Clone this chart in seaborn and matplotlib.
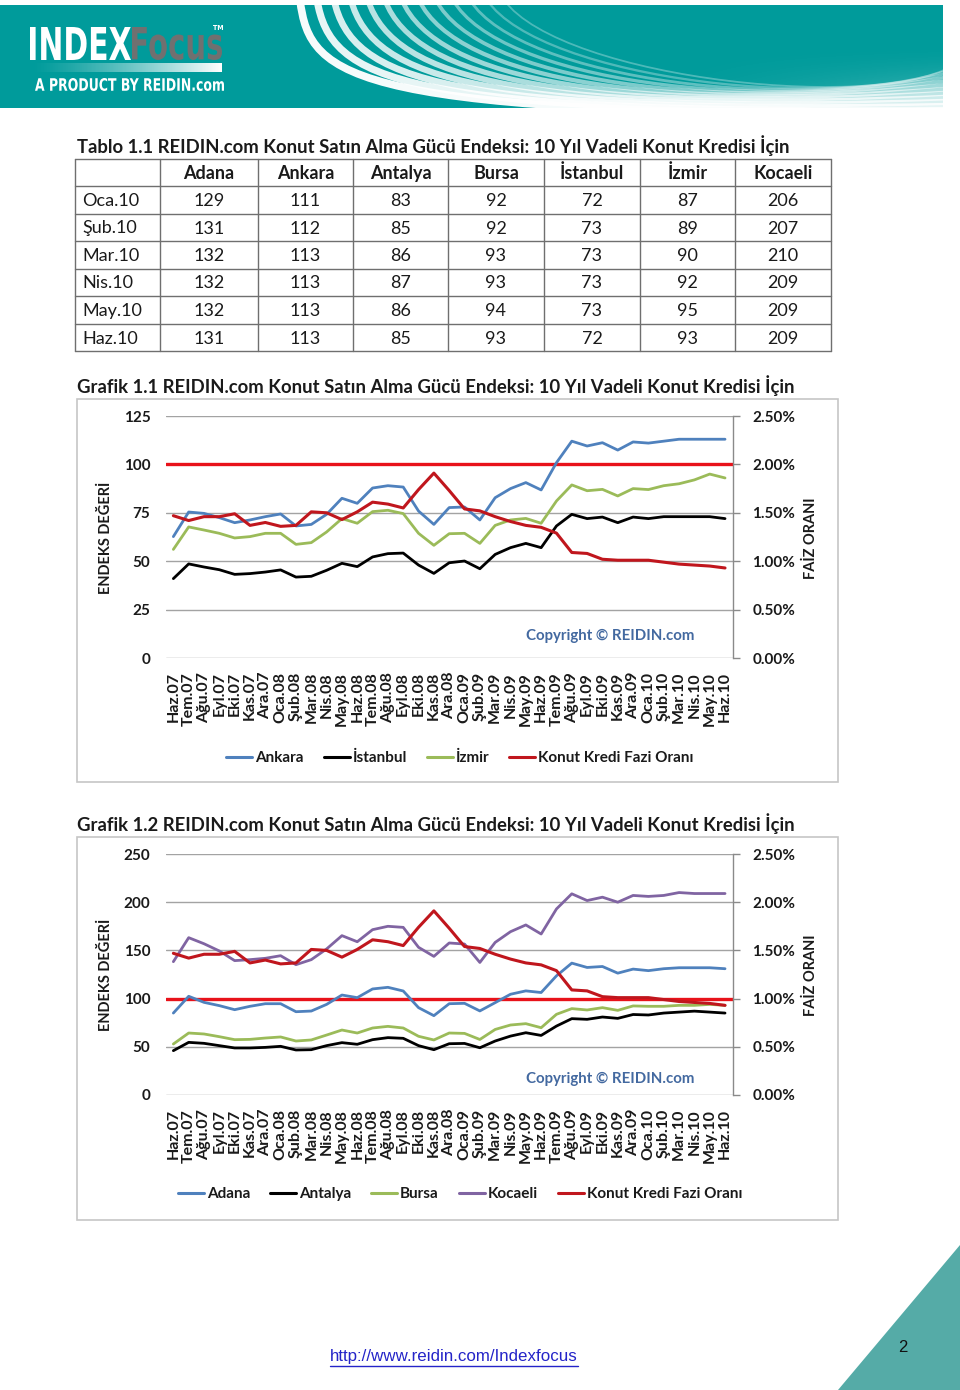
import numpy as np
import pandas as pd
import matplotlib
matplotlib.use("Agg")
import matplotlib.pyplot as plt
import seaborn as sns
from matplotlib.patches import Rectangle, Polygon, PathPatch
from matplotlib.path import Path
from matplotlib.textpath import TextPath
from matplotlib.font_manager import FontProperties
from matplotlib.transforms import Affine2D
from matplotlib.lines import Line2D

# ---------------- data ----------------
months = ["Haz.07", "Tem.07", "Ağu.07", "Eyl.07", "Eki.07", "Kas.07", "Ara.07",
          "Oca.08", "Şub.08", "Mar.08", "Nis.08", "May.08", "Haz.08", "Tem.08",
          "Ağu.08", "Eyl.08", "Eki.08", "Kas.08", "Ara.08", "Oca.09", "Şub.09",
          "Mar.09", "Nis.09", "May.09", "Haz.09", "Tem.09", "Ağu.09", "Eyl.09",
          "Eki.09", "Kas.09", "Ara.09", "Oca.10", "Şub.10", "Mar.10", "Nis.10",
          "May.10", "Haz.10"]

ankara = [62.7, 75.4, 74.7, 72.5, 69.9, 71.3, 73.0, 74.4, 68.2, 69.0, 74.2, 82.5,
          79.9, 87.8, 89.0, 88.3, 75.9, 69.0, 77.7, 78.0, 71.3, 82.8, 87.5, 90.6,
          86.8, 100.9, 112.0, 109.5, 111.2, 107.4, 111.6, 111, 112, 113, 113, 113, 113]
istanbul = [41.0, 48.6, 47.0, 45.6, 43.2, 43.6, 44.4, 45.5, 41.8, 42.2, 45.3, 48.9,
            47.2, 52.2, 53.9, 54.2, 48.0, 43.7, 49.2, 50.1, 46.1, 53.5, 57.0, 59.2,
            57.0, 68.2, 74.2, 72.0, 72.8, 69.9, 72.8, 72, 73, 73, 73, 73, 72]
izmir = [56.1, 67.7, 66.1, 64.4, 62.0, 62.7, 64.4, 64.4, 58.7, 59.6, 65.1, 72.0,
         69.6, 75.6, 76.3, 74.6, 64.4, 58.2, 64.2, 64.4, 59.2, 68.5, 71.3, 72.1,
         69.6, 81.1, 89.4, 86.4, 87.1, 83.7, 87.5, 87, 89, 90, 92, 95, 93]
adana = [85.0, 102.4, 96.1, 92.7, 88.5, 92.0, 94.7, 94.7, 86.4, 87.1, 94.0, 103.7,
         101.0, 110.0, 111.7, 107.9, 90.6, 82.3, 94.7, 95.1, 87.2, 95.8, 104.5, 108.0,
         106.3, 123.6, 136.8, 132.3, 133.3, 126.4, 130.6, 129, 131, 132, 132, 132, 131]
antalya = [46.0, 54.6, 53.6, 51.2, 48.8, 48.8, 49.4, 50.5, 46.7, 47.0, 51.2, 54.3,
           52.6, 57.4, 59.5, 58.8, 51.2, 47.0, 53.2, 53.5, 49.0, 56.0, 61.1, 64.6,
           61.8, 71.5, 79.2, 78.5, 80.9, 79.5, 83.5, 83, 85, 86, 87, 86, 85]
bursa = [52.9, 64.3, 63.3, 60.5, 57.4, 57.7, 59.1, 60.2, 56.0, 57.1, 62.2, 67.4,
         64.3, 69.5, 71.2, 69.5, 60.9, 57.1, 64.3, 63.9, 57.6, 68.0, 72.6, 74.0,
         69.8, 83.7, 89.6, 88.2, 90.6, 87.8, 92.4, 92, 92, 93, 93, 94, 93]
kocaeli = [138.3, 163.2, 156.9, 149.4, 139.4, 140.4, 141.8, 144.5, 135.2, 140.4, 151.5, 165.3,
           159.0, 171.5, 175.0, 173.9, 153.2, 143.8, 157.7, 156.6, 137.5, 158.3, 169.4, 176.4,
           167.0, 193.0, 208.7, 201.7, 205.2, 200.0, 207.0, 206, 207, 210, 209, 209, 209]
# Konut kredi faiz oranı (%)
rate = [1.47, 1.42, 1.46, 1.46, 1.49, 1.37, 1.40, 1.36, 1.37, 1.51, 1.50, 1.43,
        1.51, 1.61, 1.59, 1.55, 1.74, 1.91, 1.73, 1.54, 1.52, 1.46, 1.41, 1.37,
        1.35, 1.29, 1.09, 1.08, 1.02, 1.01, 1.01, 1.01, 0.99, 0.97, 0.96, 0.95, 0.93]

table_cities = ["Adana", "Ankara", "Antalya", "Bursa", "İstanbul", "İzmir", "Kocaeli"]
table_series = [adana, ankara, antalya, bursa, istanbul, izmir, kocaeli]
rate_label = "Konut Kredi Fazi Oranı"

# ---------------- style ----------------
sns.set_theme(style="white")
plt.rcParams["font.family"] = ["Lato", "DejaVu Sans"]

BLUE = "#4f81bd"
BLACK = "#000000"
GREEN = "#9bbb59"
PURPLE = "#8064a2"
RATE_RED = "#c0161d"
BASE_RED = "#e8121a"
TEAL = "#009b9b"
GRID = "#a3a3a3"
TXT = "#1a1a1a"

W, H = 960, 1390
fig = plt.figure(figsize=(W / 100, H / 100), dpi=100)
page = fig.add_axes([0, 0, 1, 1])
page.set_xlim(0, W)
page.set_ylim(H, 0)
page.axis("off")
renderer = fig.canvas.get_renderer()


def fit_width(t, target):
    bb = t.get_window_extent(renderer)
    t.set_fontsize(t.get_fontsize() * target / bb.width)


def fit_text(s, x0, x1, ytop, ybot, color, family="DejaVu Sans", weight="bold"):
    tp = TextPath((0, 0), s, size=1, prop=FontProperties(family=family, weight=weight))
    ext = tp.get_extents()
    sx = (x1 - x0) / ext.width
    sy = (ybot - ytop) / ext.height
    tr = Affine2D().scale(sx, -sy).translate(x0 - ext.x0 * sx, ybot + ext.y0 * sy)
    patch = PathPatch(tr.transform_path(tp), facecolor=color, edgecolor="none", zorder=5)
    page.add_patch(patch)


# ---------------- header banner ----------------
banner = Rectangle((0, 5), 943, 103, facecolor=TEAL, edgecolor="none", zorder=1)
page.add_patch(banner)
# soft glow at lower right
glow = np.zeros((64, 256, 4))
glow[..., :3] = 1.0
gx = np.linspace(0, 1, 256)[None, :]
gy = np.linspace(0, 1, 64)[:, None]
glow[..., 3] = 0.55 * np.clip(gx - 0.2, 0, 1) ** 1.5 * gy ** 2
gim = page.imshow(glow, extent=(560, 943, 108, 40), aspect="auto", zorder=1.5, interpolation="bilinear")
gim.set_clip_path(banner)
for k in range(13):
    x0 = 300 + 17 * k
    lw = max(5.5 - 0.35 * k, 0.8)
    verts = [(x0, 0), (x0 + 10 + 4 * k, 80), (350 + 45 * k, 115), (960, 115 - 4.5 * k)]
    path = Path(verts, [Path.MOVETO, Path.CURVE4, Path.CURVE4, Path.CURVE4])
    pp = PathPatch(path, fill=False, edgecolor="white", lw=lw, alpha=max(0.97 - 0.06 * k, 0.3), zorder=2)
    page.add_patch(pp)
    pp.set_clip_path(banner)

fit_text("INDEX", 30, 131, 27, 60, "white")
fit_text("Focus", 132, 222, 27, 60, "#707070")
fit_text("TM", 213, 223, 25, 30, "white")
fit_text("A PRODUCT BY REIDIN.com", 35, 224, 78, 91, "white")
grad = np.zeros((1, 256, 4))
grad[..., :3] = 1.0
grad[..., 3] = np.linspace(0.0, 1.0, 256) ** 1.3
page.imshow(grad, extent=(30, 222, 72, 63), aspect="auto", zorder=4, interpolation="bilinear")
page.set_xlim(0, W)
page.set_ylim(H, 0)

# ---------------- table ----------------
t = page.text(77, 146, "Tablo 1.1 REIDIN.com Konut Satın Alma Gücü Endeksi: 10 Yıl Vadeli Konut Kredisi İçin",
              fontsize=13, fontweight="bold", color=TXT, ha="left", va="center")
fit_width(t, 713)

col_x = [75, 160, 258, 353, 448, 544, 640, 735, 831]
row_y = [159, 186, 214, 241, 269, 296, 324, 351]
for x in col_x:
    page.plot([x, x], [row_y[0], row_y[-1]], color="#6f6f6f", lw=1, zorder=3)
for y in row_y:
    page.plot([col_x[0], col_x[-1]], [y, y], color="#6f6f6f", lw=1, zorder=3)
for j, city in enumerate(table_cities):
    page.text((col_x[j + 1] + col_x[j + 2]) / 2, (row_y[0] + row_y[1]) / 2 + 1, city,
              fontsize=13, fontweight="bold", ha="center", va="center", color=TXT)
for i, m in enumerate(months[-6:]):
    yc = (row_y[i + 1] + row_y[i + 2]) / 2 + 1
    page.text(82, yc, m, fontsize=13, ha="left", va="center", color=TXT)
    for j, ser in enumerate(table_series):
        page.text((col_x[j + 1] + col_x[j + 2]) / 2, yc, f"{ser[len(months) - 6 + i]:.0f}",
                  fontsize=13, ha="center", va="center", color=TXT)


# ---------------- charts ----------------
def draw_chart(title, title_y, frame_top, top, bottom, ymax, ystep, series, names, colors,
               rmax, legend_y, copy_y, ylab_y):
    page.text(77, title_y, title, fontsize=13, fontweight="bold", color=TXT, ha="left", va="center")
    fit_width(page.texts[-1], 718)
    page.add_patch(Rectangle((77, frame_top), 761, 383, fill=False, edgecolor="#c6c6c6", lw=1.2, zorder=2))

    left, right = 165.7, 732.7
    ax = fig.add_axes([left / W, 1 - bottom / H, (right - left) / W, (bottom - top) / H])
    n = len(months)
    df = pd.DataFrame({
        "x": np.tile(np.arange(n), len(series)),
        "value": np.concatenate([np.asarray(s, float) for s in series]),
        "series": np.repeat(names, n),
    })
    ax.axhline(100, color=BASE_RED, lw=2.4, zorder=2)
    sns.lineplot(data=df, x="x", y="value", hue="series", palette=dict(zip(names, colors)),
                 ax=ax, legend=False, linewidth=2.0, sort=False, zorder=3)
    ax.set_xlim(-0.5, n - 0.5)
    ax.set_ylim(0, ymax)
    ax.set_yticks(np.arange(0, ymax + 1, ystep))
    ax.set_yticklabels([f"{v:.0f}" for v in np.arange(0, ymax + 1, ystep)], fontsize=11, fontweight="bold")
    ax.set_xticks(np.arange(n))
    ax.set_xticklabels(months, rotation=90, fontsize=11.5, fontweight="bold")
    ax.tick_params(axis="y", length=0, pad=11, colors=TXT)
    ax.tick_params(axis="x", length=0, pad=10, colors=TXT)
    ax.grid(axis="y", color=GRID, lw=1)
    ax.grid(axis="x", visible=False)
    ax.set_axisbelow(True)
    for sp in ax.spines.values():
        sp.set_visible(False)
    ax.set_xlabel("")
    ax.set_ylabel("")
    ax.patch.set_alpha(0)

    ax2 = ax.twinx()
    sns.lineplot(x=np.arange(n), y=rate, color=RATE_RED, linewidth=2.2, ax=ax2, legend=False)
    ax2.set_ylim(0, rmax)
    rt = np.arange(0, rmax + 1e-9, 0.5)
    ax2.set_yticks(rt)
    ax2.set_yticklabels([f"{v:.2f}%" for v in rt], fontsize=11, fontweight="bold")
    ax2.tick_params(axis="y", length=5, width=1, color="#8a8a8a", pad=9, colors=TXT)
    ax2.tick_params(axis="y", which="both", color="#8a8a8a")
    for k, sp in ax2.spines.items():
        sp.set_visible(k == "right")
    ax2.spines["right"].set_color("#8a8a8a")
    ax2.spines["right"].set_linewidth(1)
    ax2.set_xlim(-0.5, n - 0.5)
    ax2.set_ylabel("")
    ax2.grid(False)

    page.text(106, ylab_y, "ENDEKS DEĞERİ", rotation=90, fontsize=10.5, fontweight="bold",
              ha="center", va="center", color=TXT)
    page.text(811, ylab_y, "FAİZ ORANI", rotation=90, fontsize=10.5, fontweight="bold",
              ha="center", va="center", color=TXT)
    c = page.text(610, copy_y, "Copyright © REIDIN.com", fontsize=11, fontweight="bold",
                  ha="center", va="center", color="#4369a0", zorder=6)
    fit_width(c, 167)

    handles = [Line2D([], [], color=col, lw=2.2) for col in colors] + [Line2D([], [], color=RATE_RED, lw=2.2)]
    labels = list(names) + [rate_label]
    leg = page.legend(handles, labels, loc="center", bbox_to_anchor=(460 / W, 1 - legend_y / H),
                      bbox_transform=fig.transFigure, ncol=len(labels), frameon=False,
                      prop={"size": 11, "weight": "bold"}, handlelength=1.7, handletextpad=0.2,
                      columnspacing=1.3, borderpad=0)
    for tx in leg.get_texts():
        tx.set_color(TXT)
    return leg


leg1 = draw_chart("Grafik 1.1 REIDIN.com Konut Satın Alma Gücü Endeksi: 10 Yıl Vadeli Konut Kredisi İçin",
                  386, 399, 416, 658, 125, 25,
                  [ankara, istanbul, izmir], ["Ankara", "İstanbul", "İzmir"], [BLUE, BLACK, GREEN],
                  2.5, 758, 636, 538)
page.add_artist(leg1)
leg2 = draw_chart("Grafik 1.2 REIDIN.com Konut Satın Alma Gücü Endeksi: 10 Yıl Vadeli Konut Kredisi İçin",
                  824, 837, 854, 1095, 250, 50,
                  [adana, antalya, bursa, kocaeli], ["Adana", "Antalya", "Bursa", "Kocaeli"],
                  [BLUE, BLACK, GREEN, PURPLE],
                  2.5, 1194, 1079, 975)

# ---------------- footer ----------------
page.add_patch(Polygon([(838, H), (W, 1245), (W, H)], closed=True, facecolor="#55aba7", edgecolor="none"))
page.text(903, 1348, "2", fontsize=12, family=["Liberation Sans", "DejaVu Sans"], ha="center", va="center", color="#111111")
link = page.text(330, 1357, "http://www.reidin.com/Indexfocus", fontsize=12,
                 family=["Liberation Sans", "DejaVu Sans"], ha="left", va="center", color="#2424c8")
fit_width(link, 247)
bb = link.get_window_extent(renderer)
page.plot([330, 330 + bb.width], [1366, 1366], color="#2424c8", lw=1)

fig.savefig("out.png", dpi=100)
